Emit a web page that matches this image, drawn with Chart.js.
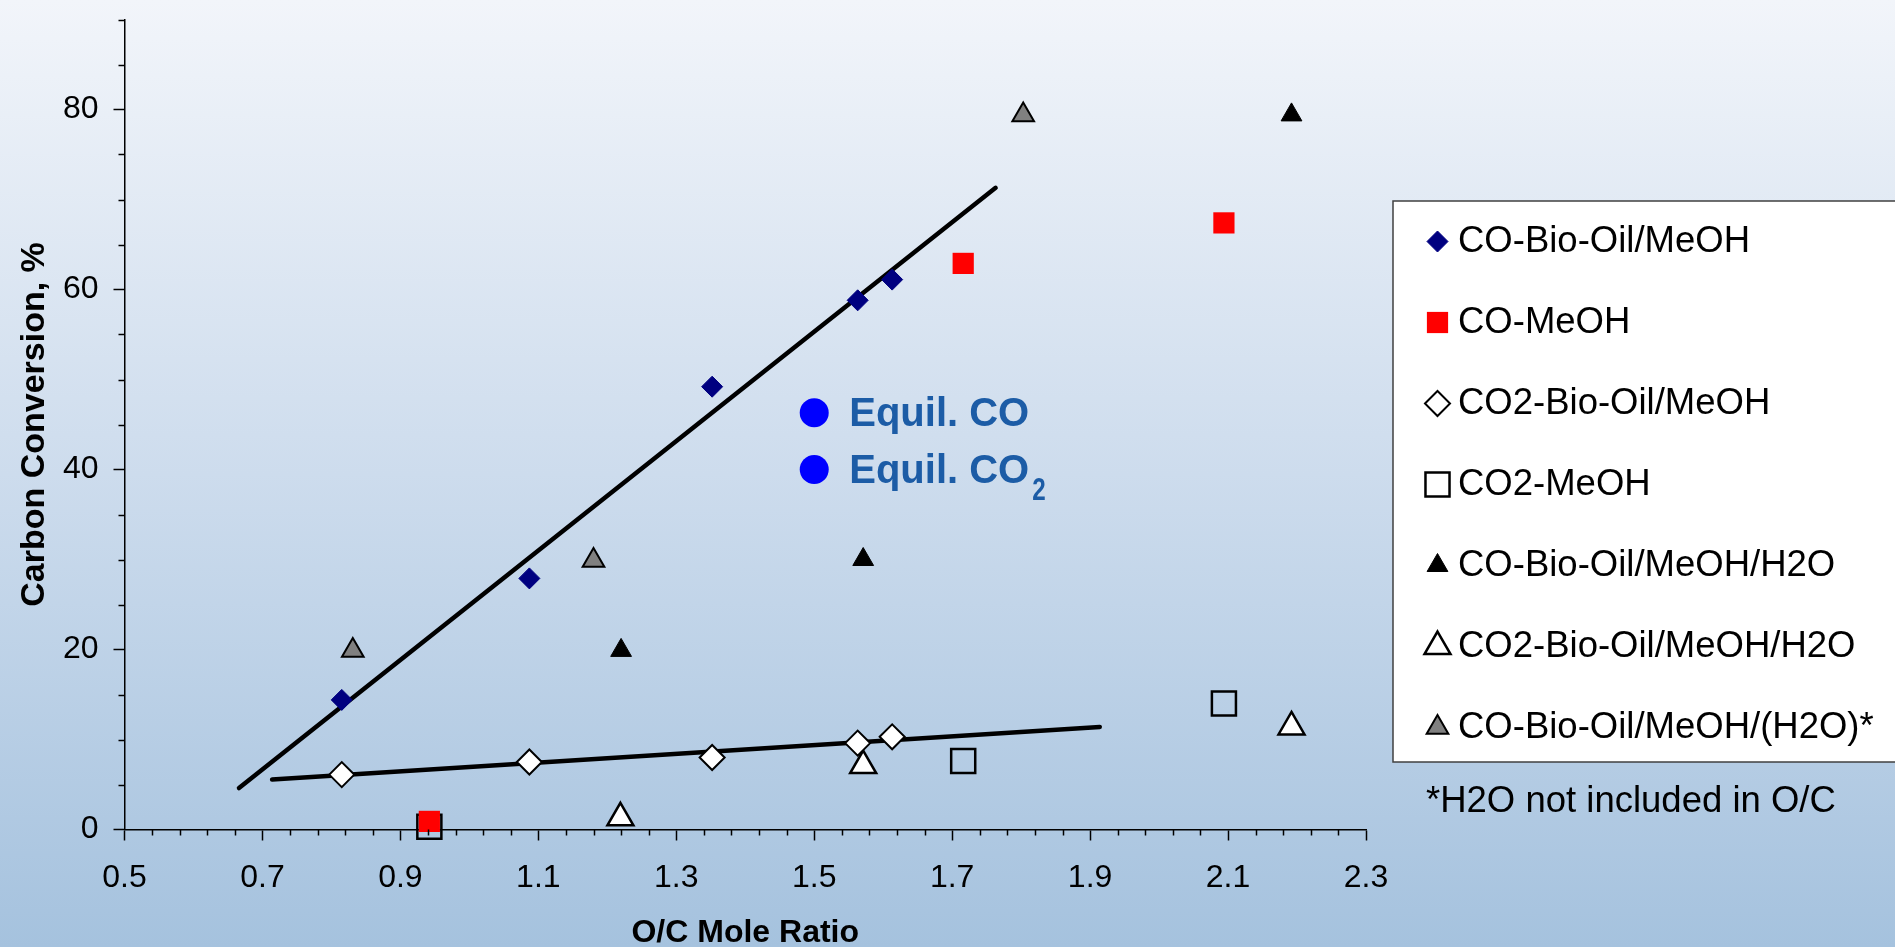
<!DOCTYPE html>
<html>
<head>
<meta charset="utf-8">
<title>Carbon Conversion vs O/C Mole Ratio</title>
<script src="https://cdn.jsdelivr.net/npm/chart.js@4.4.0/dist/chart.umd.min.js"></script>
<style>
  html, body { margin: 0; padding: 0; overflow: hidden; background: #fff; }
  #wrap { width: 1895px; height: 947px; }
</style>
</head>
<body>
<div id="wrap"><canvas id="chart" width="1895" height="947"></canvas></div>
<script>
// values: O/C mole ratio (x) and carbon conversion in % (y)
const seriesNames = [
  'CO-Bio-Oil/MeOH',
  'CO-MeOH',
  'CO2-Bio-Oil/MeOH',
  'CO2-MeOH',
  'CO-Bio-Oil/MeOH/H2O',
  'CO2-Bio-Oil/MeOH/H2O',
  'CO-Bio-Oil/MeOH/(H2O)*'
];
const coBioOilX = [0.815, 1.087, 1.352, 1.563, 1.613];
const coBioOilY = [14.4, 27.9, 49.2, 58.8, 61.1];
const coMeohX = [0.942, 1.716, 2.094];
const coMeohY = [0.9, 62.9, 67.4];
const co2BioOilX = [0.815, 1.087, 1.352, 1.563, 1.613];
const co2BioOilY = [6.1, 7.5, 8.0, 9.6, 10.3];
const co2MeohX = [0.942, 1.716, 2.094];
const co2MeohY = [0.3, 7.6, 14.0];
const coH2oX = [1.220, 1.571, 2.192];
const coH2oY = [19.9, 30.0, 79.4];
const co2H2oX = [1.219, 1.571, 2.192];
const co2H2oY = [1.3, 7.1, 11.4];
const coH2oStarX = [0.831, 1.180, 1.803];
const coH2oStarY = [19.9, 29.9, 79.4];

// trend line end points
const trendCoX = [0.666, 1.763];
const trendCoY = [4.6, 71.3];
const trendCo2X = [0.714, 1.914];
const trendCo2Y = [5.55, 11.4];

// equilibrium markers
const equilX = [1.5, 1.5];
const equilY = [46.3, 40.0];
const equilLabels = ['Equil. CO', 'Equil. CO'];
const equilSubs = ['', '2'];

const xTickLabels = ['0.5', '0.7', '0.9', '1.1', '1.3', '1.5', '1.7', '1.9', '2.1', '2.3'];
const yTickLabels = ['0', '20', '40', '60', '80'];
const footnote = '*H2O not included in O/C';

const FONT = "'Liberation Sans', Arial, sans-serif";
Chart.defaults.font.family = FONT;
Chart.defaults.color = '#000';

const pts = (xs, ys) => xs.map((x, i) => ({ x: x, y: ys[i] }));
const xKey = v => String(+(+v).toFixed(2));
const isMajorX = v => xTickLabels.includes(xKey(v));
const isMajorY = v => yTickLabels.includes(String(v));

function markerSet(name, xs, ys, style, radius, fill, border, bw) {
  return {
    label: name,
    data: pts(xs, ys),
    pointStyle: style,
    pointRadius: radius,
    pointHoverRadius: radius,
    backgroundColor: fill,
    borderColor: border,
    borderWidth: bw,
    showLine: false,
    clip: false,
    order: 1,
    inLegend: true
  };
}

function trendSet(xs, ys) {
  return {
    type: 'line',
    label: 'trend',
    data: pts(xs, ys),
    showLine: true,
    borderColor: '#000',
    borderWidth: 4.5,
    borderCapStyle: 'round',
    pointRadius: 0,
    fill: false,
    clip: false,
    order: 5
  };
}

const datasets = [
  markerSet(seriesNames[0], coBioOilX, coBioOilY, 'rectRot', 10.5, '#000080', '#000080', 1),
  markerSet(seriesNames[1], coMeohX, coMeohY, 'rect', 15, '#ff0000', '#ff0000', 0),
  markerSet(seriesNames[2], co2BioOilX, co2BioOilY, 'rectRot', 12.5, '#ffffff', '#000', 2),
  markerSet(seriesNames[3], co2MeohX, co2MeohY, 'rect', 17, 'rgba(0,0,0,0)', '#000', 2.5),
  markerSet(seriesNames[4], coH2oX, coH2oY, 'triangle', 12, '#000', '#000', 1),
  markerSet(seriesNames[5], co2H2oX, co2H2oY, 'triangle', 15, '#ffffff', '#000', 2.5),
  markerSet(seriesNames[6], coH2oStarX, coH2oStarY, 'triangle', 12.5, '#808080', '#000', 2),
  trendSet(trendCoX, trendCoY),
  trendSet(trendCo2X, trendCo2Y),
  {
    label: 'equil',
    data: pts(equilX, equilY),
    pointStyle: 'circle',
    pointRadius: 14.5,
    backgroundColor: '#0000ff',
    borderWidth: 0,
    showLine: false,
    clip: false,
    order: 0
  }
];

// gradient background behind everything
const bgPlugin = {
  id: 'bg',
  beforeDraw(chart) {
    const { ctx, width, height } = chart;
    const g = ctx.createLinearGradient(0, 0, 0, height);
    g.addColorStop(0, '#f2f5fa');
    g.addColorStop(0.5, '#cddced');
    g.addColorStop(1, '#a5c2de');
    ctx.save();
    ctx.fillStyle = g;
    ctx.fillRect(0, 0, width, height);
    ctx.restore();
  }
};

// short minor tick marks (majors are drawn by the scales)
const minorTicks = {
  id: 'minorTicks',
  afterDraw(chart) {
    const { ctx } = chart;
    const xs = chart.scales.x, ys = chart.scales.y;
    ctx.save();
    ctx.strokeStyle = '#000';
    ctx.lineWidth = 1.5;
    ctx.beginPath();
    xs.ticks.forEach(t => {
      if (isMajorX(t.value)) return;
      const p = Math.round(xs.getPixelForValue(t.value)) + 0.5;
      ctx.moveTo(p, xs.top);
      ctx.lineTo(p, xs.top + 6);
    });
    ys.ticks.forEach(t => {
      if (isMajorY(t.value)) return;
      const p = Math.round(ys.getPixelForValue(t.value)) + 0.5;
      ctx.moveTo(ys.right, p);
      ctx.lineTo(ys.right - 6, p);
    });
    ctx.stroke();
    ctx.restore();
  }
};

// "Equil. CO" / "Equil. CO2" labels next to the blue dots
const equilText = {
  id: 'equilText',
  afterDatasetsDraw(chart) {
    const idx = chart.data.datasets.findIndex(d => d.label === 'equil');
    const meta = chart.getDatasetMeta(idx);
    const { ctx } = chart;
    ctx.save();
    ctx.fillStyle = '#1c5ca6';
    ctx.textBaseline = 'alphabetic';
    meta.data.forEach((pt, i) => {
      const x = pt.x + 35, y = pt.y + 13.5;
      ctx.font = 'bold 40px ' + FONT;
      ctx.fillText(equilLabels[i], x, y);
      if (equilSubs[i]) {
        const w = ctx.measureText(equilLabels[i]).width;
        ctx.save();
        ctx.translate(x + w + 3, y + 17);
        ctx.scale(0.78, 1);
        ctx.font = 'bold 31px ' + FONT;
        ctx.fillText(equilSubs[i], 0, 0);
        ctx.restore();
      }
    });
    ctx.restore();
  }
};

// boxed legend on the right plus the footnote
const legendBox = {
  id: 'legendBox',
  afterDraw(chart) {
    const { ctx } = chart;
    ctx.save();
    ctx.fillStyle = '#ffffff';
    ctx.fillRect(1393, 201, 520, 561);
    ctx.strokeStyle = '#404040';
    ctx.lineWidth = 1.5;
    ctx.strokeRect(1393, 201, 520, 561);

    const items = chart.data.datasets.filter(d => d.inLegend);
    items.forEach((d, i) => {
      const y = 241.5 + i * 81;
      ctx.fillStyle = d.backgroundColor;
      ctx.strokeStyle = d.borderColor;
      ctx.lineWidth = d.borderWidth;
      Chart.helpers.drawPoint(ctx, {
        pointStyle: d.pointStyle,
        radius: d.pointRadius,
        rotation: 0,
        borderWidth: d.borderWidth
      }, 1437.5, y);
      ctx.fillStyle = '#000';
      ctx.font = '36.5px ' + FONT;
      ctx.textBaseline = 'middle';
      ctx.textAlign = 'left';
      ctx.fillText(d.label, 1458, y);
    });

    ctx.fillStyle = '#000';
    ctx.font = '36.5px ' + FONT;
    ctx.textBaseline = 'middle';
    ctx.fillText(footnote, 1426, 802);
    ctx.restore();
  }
};

new Chart(document.getElementById('chart'), {
  type: 'scatter',
  data: { datasets: datasets },
  plugins: [bgPlugin, minorTicks, equilText, legendBox],
  options: {
    responsive: false,
    animation: false,
    layout: { padding: { left: 0, right: 529, top: 13.3, bottom: 0 } },
    plugins: {
      legend: { display: false },
      tooltip: { enabled: false }
    },
    scales: {
      x: {
        type: 'linear',
        min: 0.5,
        max: 2.3,
        afterFit(s) {
          s.height = 117.5;
          s.paddingLeft = 0;
          s.paddingRight = 0;
        },
        border: { display: true, color: '#000', width: 1.5 },
        grid: {
          drawOnChartArea: false,
          drawTicks: true,
          tickLength: 11,
          tickWidth: 1.5,
          tickColor: c => (c.tick && isMajorX(c.tick.value)) ? '#000' : 'rgba(0,0,0,0)'
        },
        ticks: {
          stepSize: 0.04,
          autoSkip: false,
          maxRotation: 0,
          minRotation: 0,
          padding: 18,
          color: '#000',
          font: { size: 32 },
          callback: v => isMajorX(v) ? xKey(v) : ''
        },
        title: {
          display: true,
          text: 'O/C Mole Ratio',
          color: '#000',
          font: { size: 32, weight: 'bold', lineHeight: 0.84 },
          padding: 0
        }
      },
      y: {
        type: 'linear',
        min: 0,
        max: 90,
        afterFit(s) {
          s.width = 124.5;
          s.paddingTop = 0;
          s.paddingBottom = 0;
        },
        border: { display: true, color: '#000', width: 1.5 },
        grid: {
          drawOnChartArea: false,
          drawTicks: true,
          tickLength: 11,
          tickWidth: 1.5,
          tickColor: c => (c.tick && isMajorY(c.tick.value)) ? '#000' : 'rgba(0,0,0,0)'
        },
        ticks: {
          stepSize: 5,
          autoSkip: false,
          padding: 15,
          color: '#000',
          font: { size: 32 },
          callback: v => isMajorY(v) ? String(v) : ''
        },
        title: {
          display: true,
          text: 'Carbon Conversion, %',
          color: '#000',
          font: { size: 34, weight: 'bold' },
          padding: { top: 14 }
        }
      }
    }
  }
});
</script>
</body>
</html>
